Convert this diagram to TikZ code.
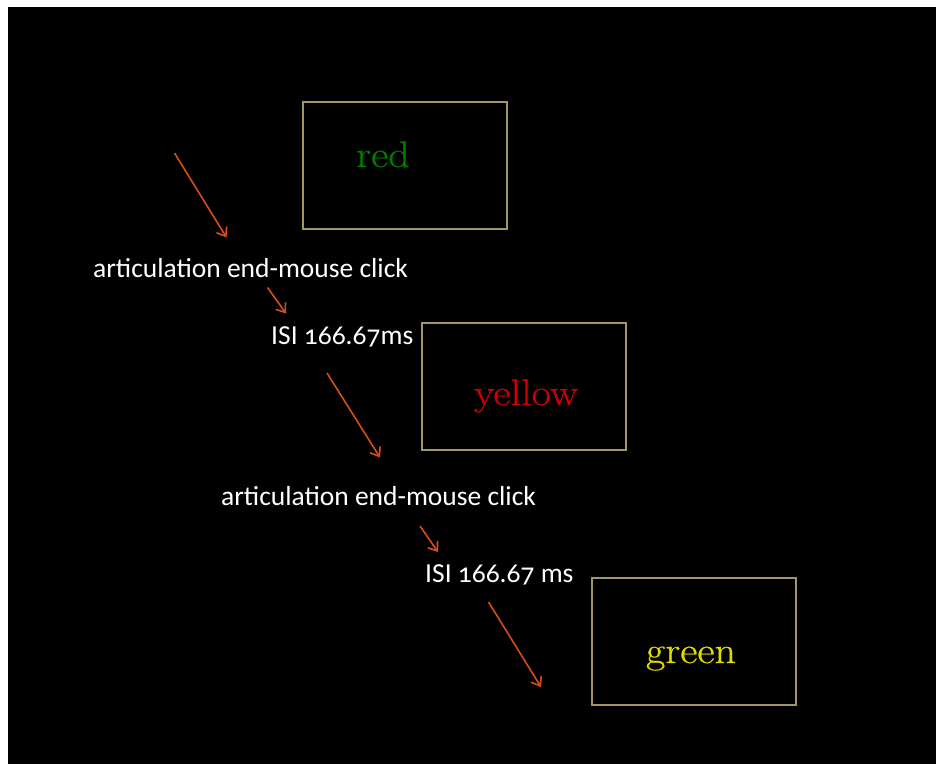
\documentclass[tikz,border=0pt]{standalone}
\usepackage{fontspec}
\newfontfamily\labelfont[Numbers=OldStyle]{Carlito}
\newfontfamily\wordfont[FakeStretch=1.14, FakeBold=0.6]{Latin Modern Roman}
\usetikzlibrary{arrows.meta}
\definecolor{boxline}{RGB}{160,152,100}
\definecolor{arrowc}{RGB}{215,78,22}
\definecolor{wgreen}{RGB}{0,125,0}
\definecolor{wred}{RGB}{205,0,0}
\definecolor{wyellow}{RGB}{225,220,0}
\tikzset{
  stimbox/.style={draw=boxline, line width=1.6pt, minimum width=204pt, minimum height=127pt, inner sep=0pt},
  word/.style={font=\wordfont\fontsize{37}{40}\selectfont, inner sep=0pt, anchor=base},
  lab/.style={text=white, font=\labelfont\fontsize{27.5}{30}\selectfont, inner sep=0pt, anchor=base west},
  arr/.style={draw=arrowc, line width=1.6pt, -{Straight Barb[length=8pt,width=12pt]}}
}
\begin{document}
\begin{tikzpicture}[x=1pt,y=-1pt]
\useasboundingbox (0,0) rectangle (936,764);
\fill[white] (0,0) rectangle (936,764);
\fill[black] (8,7) rectangle (936,764);
% boxes
\node[stimbox] (b1) at (405,165.5) {};
\node[stimbox] (b2) at (524,386.5) {};
\node[stimbox] (b3) at (694,641.5) {};
\node[word, text=wgreen] (w1) at (383,167) {red};
\node[word, text=wred] (w2) at (526,405) {yellow};
\node[word, text=wyellow] (w3) at (691,663) {green};
% labels
\node[lab] (l1) at (93,277) {articulation end-mouse click};
\node[lab] (i1) at (271,344) {ISI 166.67ms};
\node[lab] (l2) at (221,505) {articulation end-mouse click};
\node[lab] (i2) at (425,582) {ISI 166.67 ms};
% arrow ends
\coordinate (a1s) at (174.5,153);
\coordinate (a1e) at (226.5,237.5);
\coordinate (a2s) at (267.5,287.5);
\coordinate (a2e) at (286,313.5);
\coordinate (a3s) at (327,373);
\coordinate (a3e) at (380,457.5);
\coordinate (a4s) at (420,526);
\coordinate (a4e) at (438,552);
\coordinate (a5s) at (488.5,602);
\coordinate (a5e) at (541,687);
\draw[arr] (a1s) -- (a1e);
\draw[arr] (a2s) -- (a2e);
\draw[arr] (a3s) -- (a3e);
\draw[arr] (a4s) -- (a4e);
\draw[arr] (a5s) -- (a5e);
\end{tikzpicture}
\end{document}
